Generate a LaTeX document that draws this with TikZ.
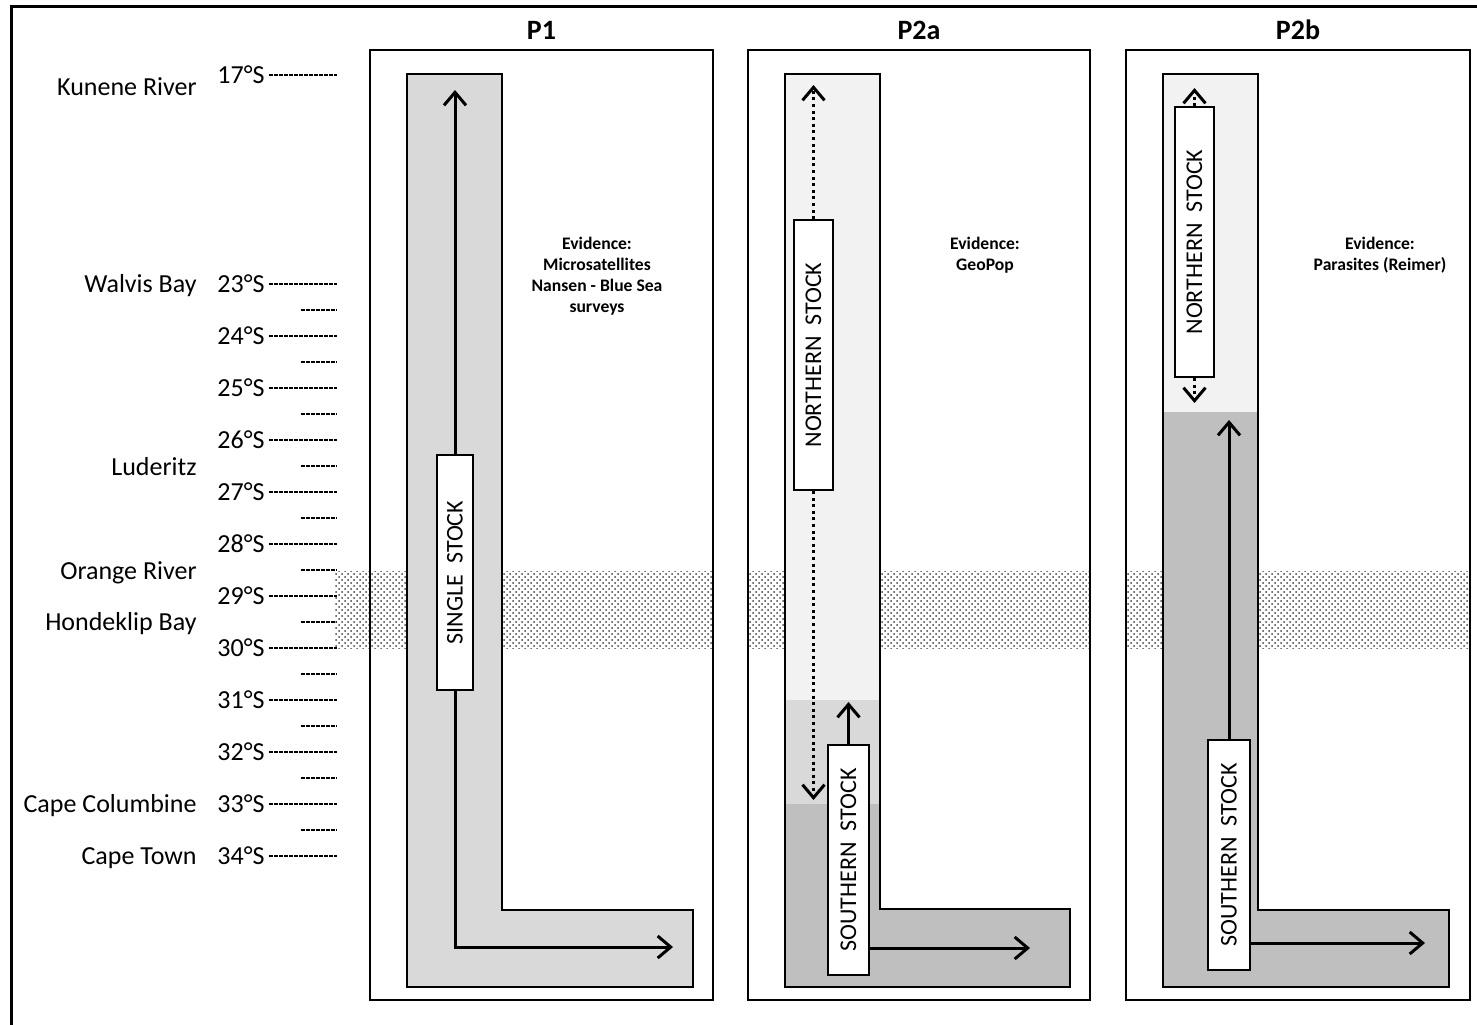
\documentclass[tikz,border=0pt]{standalone}
\usepackage{fontspec}
\setmainfont{Carlito}
\usetikzlibrary{arrows.meta,patterns}

\definecolor{paleL}{HTML}{F2F2F2}
\definecolor{lightL}{HTML}{D9D9D9}
\definecolor{darkL}{HTML}{BFBFBF}

\tikzset{
  panel/.style={draw, line width=1.4pt},
  lbar/.style={draw, line width=1.3pt},
  latline/.style={line width=1pt, dash pattern=on 2pt off 0.5pt},
  latlabel/.style={anchor=east, inner sep=2pt, text depth=0pt, font=\fontsize{13}{15}\selectfont},
  place/.style={anchor=base east, inner sep=0pt, font=\fontsize{13}{15}\selectfont},
  paneltitle/.style={font=\bfseries\fontsize{14}{16}\selectfont},
  evidence/.style={anchor=north, align=center, inner sep=0pt, font=\bfseries\fontsize{8.8}{10.5}\selectfont},
  stockbox/.style={draw, fill=white, line width=0.9pt, rotate=90, inner sep=0pt, font=\fontsize{12}{14}\selectfont},
  flow/.style={line width=1.5pt, -{Straight Barb[length=6.5pt,width=11pt]}},
  dotflow/.style={flow, dash pattern=on 1.5pt off 1.8pt}
}

\begin{document}
\begin{tikzpicture}[x=0.5pt, y=-0.5pt]
  \useasboundingbox (0,0) rectangle (1477,1024);
  % outer frame (runs off the right and bottom)
  \draw[line width=1.5pt] (11,1030) -- (11,6) -- (1485,6);

  % latitude scale
  \node[latlabel] (lat17) at (269,75) {17°S};
  \draw[latline] (lat17.east) -- ++(68,0);
  \foreach \d in {23,...,34} {
    \node[latlabel] (lat\d) at (269,{284+(\d-23)*52}) {\d°S};
    \draw[latline] (lat\d.east) -- ++(68,0);
  }
  \foreach \d in {23,...,33}
    \draw[latline] (301,{310+(\d-23)*52}) -- ++(36,0);

  % places
  \node[place] (kunene) at (197,95) {Kunene River};
  \node[place] (walvis) at (197,292) {Walvis Bay};
  \node[place] (luderitz) at (197,475) {Luderitz};
  \node[place] (orange) at (197,579) {Orange River};
  \node[place] (hondeklip) at (197,630) {Hondeklip Bay};
  \node[place] (columbine) at (197,812) {Cape Columbine};
  \node[place] (capetown) at (197,864) {Cape Town};

  % Orange River - Hondeklip band
  \foreach \a/\b in {335/713, 748/1090, 1126/1470}
    \fill[pattern=crosshatch dots, pattern color=black!75] (\a,571) rectangle (\b,648);

  % panels
  \draw[panel] (370,50) rectangle (713,1000);
  \draw[panel] (748,50) rectangle (1090,1000);
  \draw[panel] (1126,50) rectangle (1470,1000);
  \node[paneltitle] (tP1) at (541.5,30) {P1};
  \node[paneltitle] (tP2a) at (919,30) {P2a};
  \node[paneltitle] (tP2b) at (1298,30) {P2b};

  % P1
  \filldraw[lbar, fill=lightL] (407,74) -- (502,74) -- (502,910) -- (693,910) -- (693,987) -- (407,987) -- cycle;
  \node[stockbox, minimum width=117.5pt, minimum height=18pt] (single) at (455,572.5) {SINGLE~~STOCK};
  \coordinate (topP1) at (455,90);
  \coordinate (cornerP1) at (455,947);
  \coordinate (endP1) at (673,947);
  \draw[flow] (single.east) -- (topP1);
  \draw[flow] (single.west) -- (cornerP1) -- (endP1);
  \node[evidence] (evP1) at (597,237) {Evidence:\\Microsatellites\\Nansen - Blue Sea\\surveys};

  % P2a
  \begin{scope}
    \clip (785,74) -- (880,74) -- (880,909) -- (1070,909) -- (1070,987) -- (785,987) -- cycle;
    \fill[paleL] (785,74) rectangle (1070,700);
    \fill[lightL] (785,700) rectangle (1070,804);
    \fill[darkL] (785,804) rectangle (1070,987);
  \end{scope}
  \draw[lbar] (785,74) -- (880,74) -- (880,909) -- (1070,909) -- (1070,987) -- (785,987) -- cycle;
  \node[stockbox, minimum width=135pt, minimum height=19.5pt] (northA) at (813.5,355) {NORTHERN~~STOCK};
  \coordinate (topA) at (813.5,85);
  \coordinate (botA) at (813.5,800);
  \draw[dotflow] (northA.east) -- (topA);
  \draw[dotflow] (northA.west) -- (botA);
  \node[stockbox, minimum width=115pt, minimum height=20.5pt] (southA) at (848.5,860) {SOUTHERN~~STOCK};
  \coordinate (upA) at (848.5,702);
  \coordinate (endA) at (1030,948);
  \draw[flow] (southA.east) -- (upA);
  \draw[flow] (southA.south |- endA) -- (endA);
  \node[evidence] (evP2a) at (985,237) {Evidence:\\GeoPop};

  % P2b
  \begin{scope}
    \clip (1163,74) -- (1258,74) -- (1258,910) -- (1449,910) -- (1449,987) -- (1163,987) -- cycle;
    \fill[paleL] (1163,74) rectangle (1449,412);
    \fill[darkL] (1163,412) rectangle (1449,987);
  \end{scope}
  \draw[lbar] (1163,74) -- (1258,74) -- (1258,910) -- (1449,910) -- (1449,987) -- (1163,987) -- cycle;
  \node[stockbox, minimum width=135pt, minimum height=19.5pt] (northB) at (1194.5,242) {NORTHERN~~STOCK};
  \coordinate (topB) at (1194.5,88);
  \coordinate (botB) at (1194.5,403);
  \draw[dotflow] (northB.east) -- (topB);
  \draw[dotflow] (northB.west) -- (botB);
  \node[stockbox, minimum width=115pt, minimum height=21pt] (southB) at (1229,855) {SOUTHERN~~STOCK};
  \coordinate (upB) at (1229,420);
  \coordinate (endB) at (1425,943);
  \draw[flow] (southB.east) -- (upB);
  \draw[flow] (southB.south |- endB) -- (endB);
  \node[evidence] (evP2b) at (1380,237) {Evidence:\\Parasites (Reimer)};
\end{tikzpicture}
\end{document}
